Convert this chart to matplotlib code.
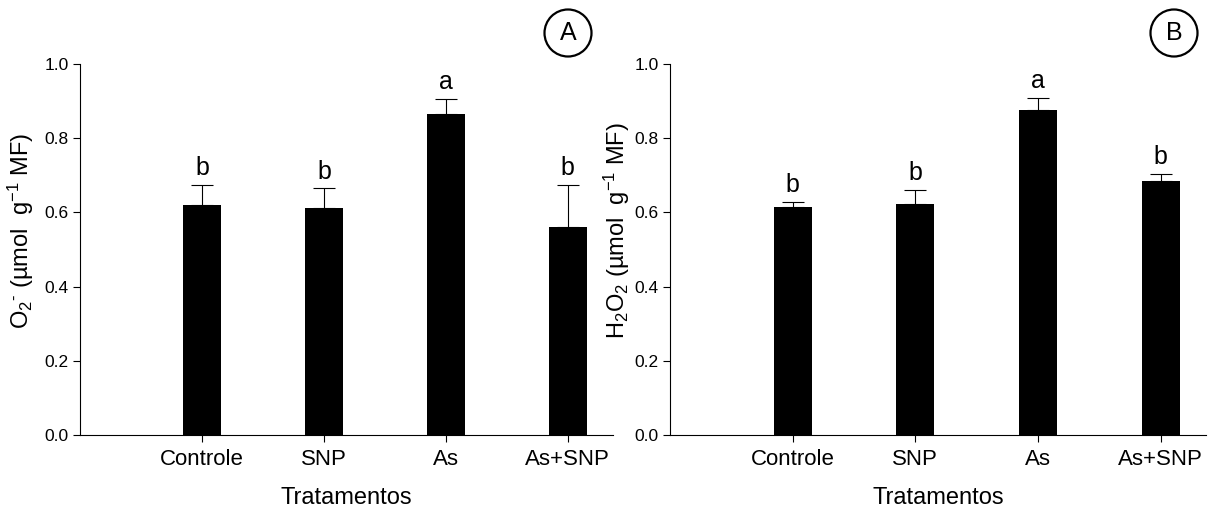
import numpy as np
import matplotlib
matplotlib.use('Agg')
import matplotlib.pyplot as plt
from matplotlib.patches import Ellipse

plt.rcParams['font.family'] = ['Liberation Sans', 'DejaVu Sans']
plt.rcParams['mathtext.default'] = 'regular'

tratamentos = ['Controle', 'SNP', 'As', 'As+SNP']

o2_mean = [0.620, 0.612, 0.865, 0.561]
o2_err = [0.054, 0.053, 0.042, 0.113]
o2_letters = ['b', 'b', 'a', 'b']

h2o2_mean = [0.614, 0.623, 0.876, 0.685]
h2o2_err = [0.014, 0.037, 0.032, 0.019]
h2o2_letters = ['b', 'b', 'a', 'b']

fig = plt.figure(figsize=(12.11, 5.08), dpi=100)
ax1 = fig.add_axes([0.0661, 0.1437, 0.4401, 0.7303])
ax2 = fig.add_axes([0.5533, 0.1437, 0.4426, 0.7303])

panels = [
    (ax1, o2_mean, o2_err, o2_letters, 'O$_2$$^{\u2010}$ (µmol  g$^{-1}$ MF)', 'A', 568, -0.083),
    (ax2, h2o2_mean, h2o2_err, h2o2_letters, 'H$_2$O$_2$ (µmol  g$^{-1}$ MF)', 'B', 1174, -0.071),
]

x = np.arange(len(tratamentos))
for ax, mean, err, letters, ylab, tag, cx, lx in panels:
    ax.bar(x, mean, width=0.31, color='black', zorder=2)
    ax.errorbar(x, mean, yerr=[np.zeros(len(err)), err], fmt='none', ecolor='black',
                elinewidth=0.8, capsize=8, capthick=0.8, zorder=1)
    for xi, m, e, lt in zip(x, mean, err, letters):
        ax.annotate(lt, (xi, m + e), xytext=(0, 7), textcoords='offset points',
                    ha='center', va='baseline', fontsize=18)
    ax.set_xlim(-1, 3.37)
    ax.set_ylim(0, 1.0)
    ax.set_yticks([0.0, 0.2, 0.4, 0.6, 0.8, 1.0])
    ax.set_yticklabels(['0.0', '0.2', '0.4', '0.6', '0.8', '1.0'])
    ax.set_xticks(x)
    ax.set_xticklabels(tratamentos, fontsize=16)
    ax.tick_params(axis='y', labelsize=12.5, length=5, width=0.8, pad=3)
    ax.tick_params(axis='x', length=5, width=0.8, pad=5)
    for s in ['top', 'right']:
        ax.spines[s].set_visible(False)
    for s in ['left', 'bottom']:
        ax.spines[s].set_linewidth(0.8)
    ax.set_ylabel(ylab, fontsize=17)
    ax.yaxis.set_label_coords(lx, 0.55)
    ax.set_xlabel('Tratamentos', fontsize=17)
    ax.xaxis.set_label_coords(0.5, -0.14)
    fig.add_artist(Ellipse((cx / 1211, 1 - 33 / 508), width=47 / 1211, height=47 / 508,
                           transform=fig.transFigure, fill=False, lw=1.6, color='black'))
    fig.text(cx / 1211, 1 - 33 / 508, tag, ha='center', va='center', fontsize=18)

fig.savefig('out.png', dpi=100)
